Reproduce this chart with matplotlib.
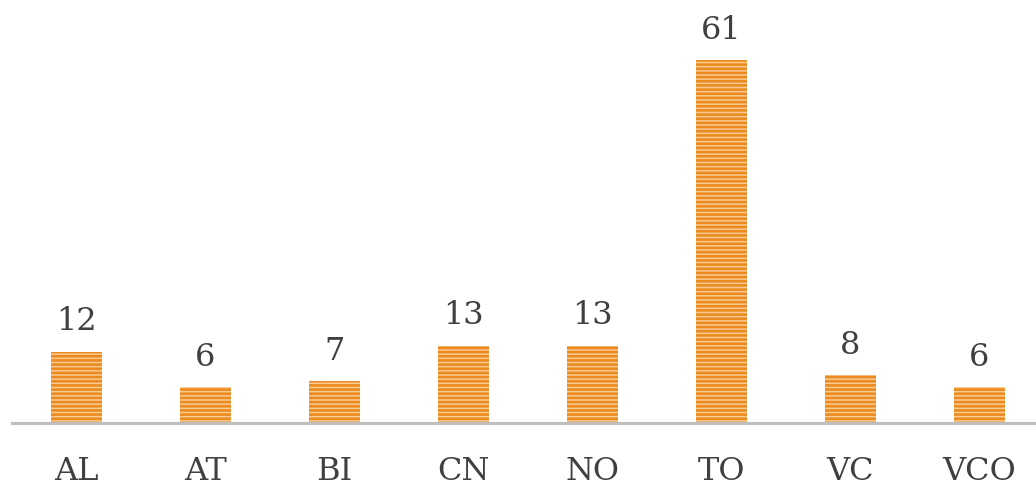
import matplotlib
matplotlib.use('Agg')
import matplotlib.pyplot as plt

# Counts per category
categories = ['AL', 'AT', 'BI', 'CN', 'NO', 'TO', 'VC', 'VCO']
counts = [12, 6, 7, 13, 13, 61, 8, 6]

plt.rcParams['font.family'] = ['DejaVu Serif']
plt.rcParams['hatch.linewidth'] = 1.9

fig = plt.figure(figsize=(10.36, 4.86), dpi=100)
ax = fig.add_axes([12 / 1036, 63 / 486, 1032 / 1036, 70 * 5.95 / 486])

x = range(len(categories))
bars = ax.bar(x, counts, width=0.39, color='#F9CB93', edgecolor='#EB8A1E',
              linewidth=0, hatch='----')

for xi, v in zip(x, counts):
    ax.text(xi, v + 2.4, str(v), ha='center', va='bottom',
            fontsize=23, color='#404040')

ax.set_xlim(-0.5, 7.5)
ax.set_ylim(0, 70)
ax.set_xticks(list(x))
ax.set_xticklabels(categories, fontsize=23, color='#404040')
ax.tick_params(axis='x', length=0, pad=24)
ax.set_yticks([])
for side in ['top', 'left', 'right']:
    ax.spines[side].set_visible(False)
ax.spines['bottom'].set_color('#BFBFBF')
ax.spines['bottom'].set_linewidth(2.2)

fig.savefig('out.png', dpi=100)
